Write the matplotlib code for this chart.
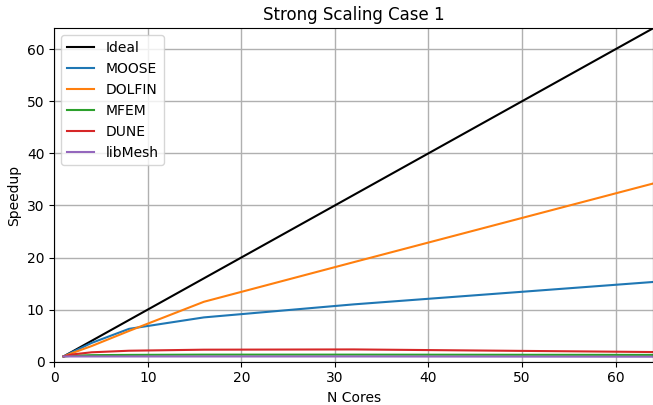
import matplotlib
matplotlib.use("Agg")
import matplotlib.pyplot as plt

cores = [1, 2, 4, 8, 16, 32, 64]
ideal = [1, 2, 4, 8, 16, 32, 64]
moose = [1, 1.9, 3.6, 6.3, 8.5, 11.0, 15.3]
dolfin = [1, 1.7, 3.0, 5.9, 11.5, 19.1, 34.2]
mfem = [1, 1.15, 1.25, 1.3, 1.35, 1.35, 1.3]
dune = [1, 1.4, 1.8, 2.1, 2.3, 2.35, 1.85]
libmesh = [1, 1.0, 1.0, 1.0, 1.0, 1.0, 0.95]

fig, ax = plt.subplots(figsize=(6.53, 4.05), dpi=100)
ax.plot(cores, ideal, color="black", label="Ideal")
ax.plot(cores, moose, color="#1f77b4", label="MOOSE")
ax.plot(cores, dolfin, color="#ff7f0e", label="DOLFIN")
ax.plot(cores, mfem, color="#2ca02c", label="MFEM")
ax.plot(cores, dune, color="#d62728", label="DUNE")
ax.plot(cores, libmesh, color="#9467bd", label="libMesh")
ax.set_xlim(0, 64)
ax.set_ylim(0, 64)
ax.set_xticks([0, 10, 20, 30, 40, 50, 60])
ax.set_yticks([0, 10, 20, 30, 40, 50, 60])
ax.grid(True, linewidth=1)
ax.set_title("Strong Scaling Case 1")
ax.set_xlabel("N Cores")
ax.set_ylabel("Speedup")
ax.legend(loc="upper left")
fig.subplots_adjust(left=0.083, right=1.0, bottom=0.107, top=0.93)
fig.savefig("out.png", dpi=100)
